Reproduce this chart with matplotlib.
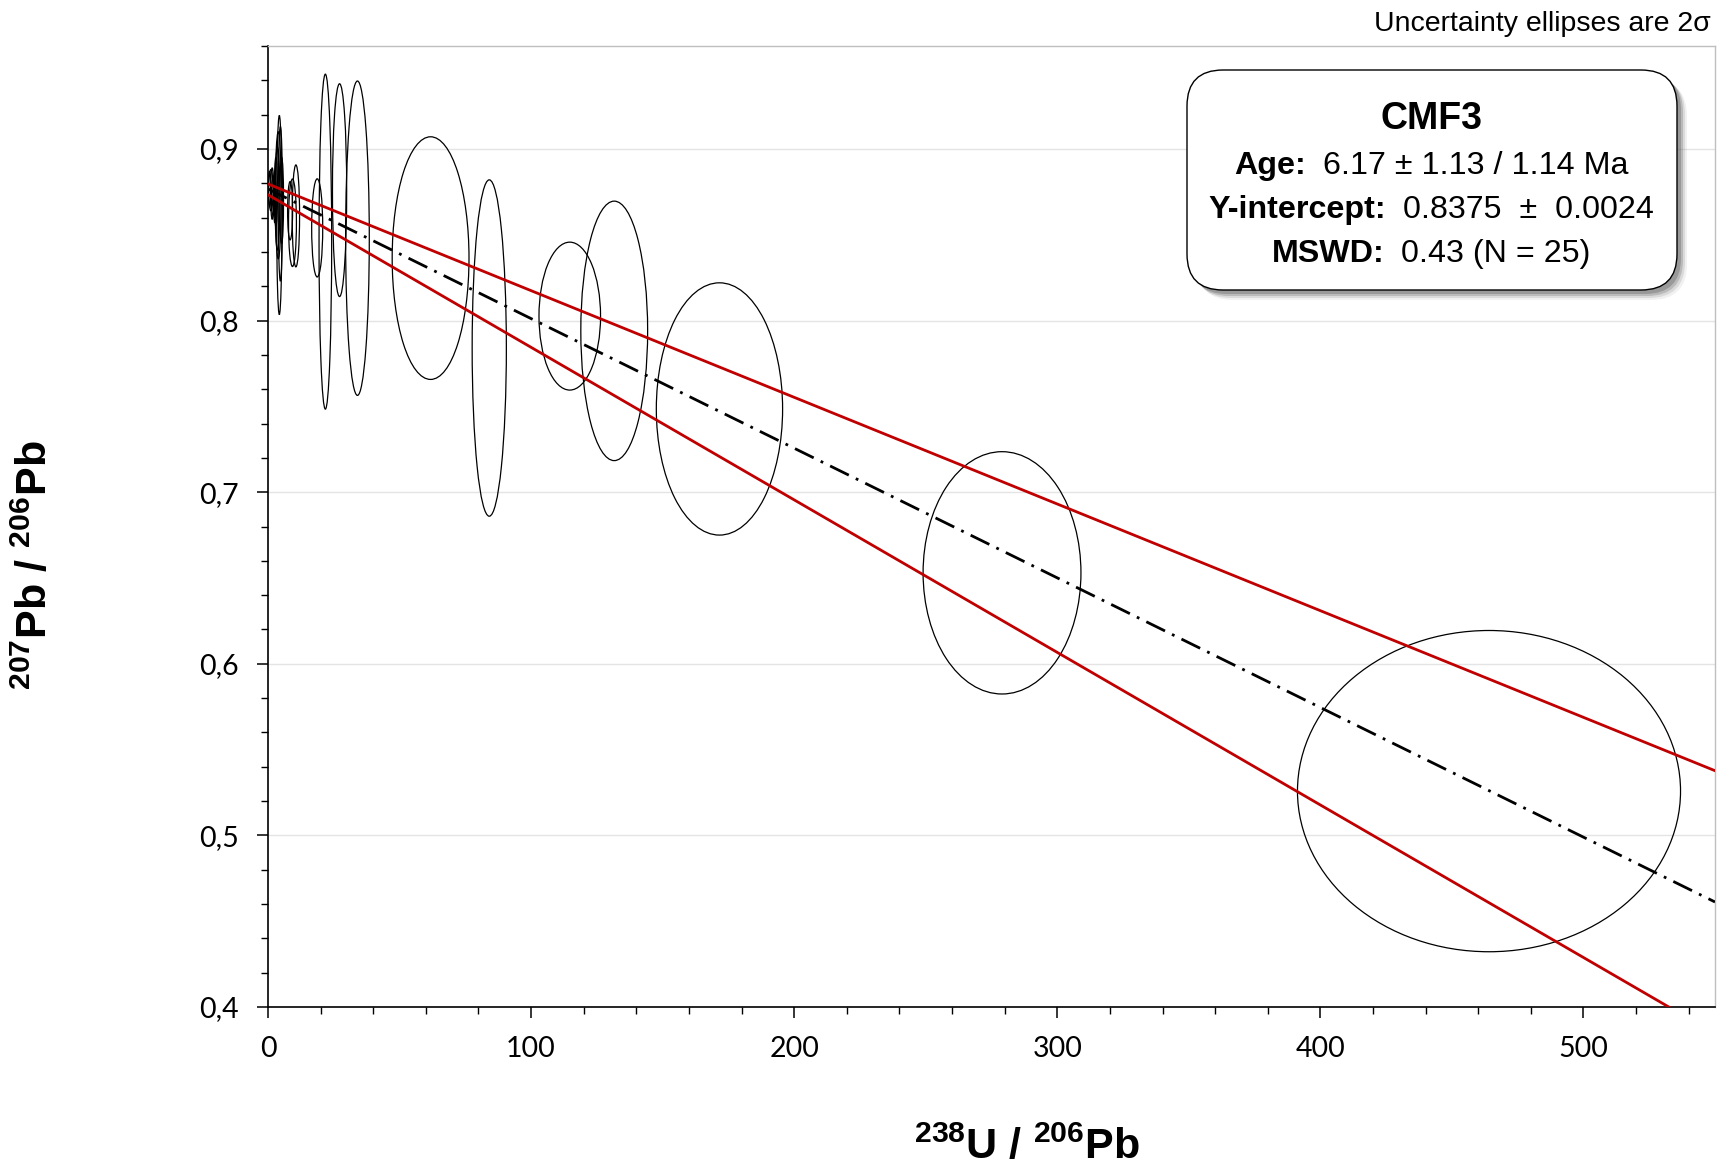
#!/usr/bin/env python3
"""
Tera-Wasserburg diagram (CMF3): uncertainty ellipses with regression line and envelope
"""

import numpy as np
import matplotlib
matplotlib.use("Agg")
import matplotlib.pyplot as plt
from matplotlib.patches import Ellipse, FancyBboxPatch
from matplotlib.ticker import MultipleLocator, FixedLocator, FixedFormatter

# ---- data ----
# ellipse centres (238U/206Pb, 207Pb/206Pb) and 2-sigma half axes
ell_x = [464.1, 279.0, 171.6, 131.6, 114.7, 84.1, 61.8,
         34.0, 27.2, 21.8, 18.7,
         10.6, 9.3, 8.4,
         5.2, 4.7, 4.3, 3.9, 3.6, 3.0, 2.6, 2.0, 1.6, 1.1, 0.6]
ell_y = [0.5258, 0.653, 0.7485, 0.794, 0.8026, 0.784, 0.8364,
         0.848, 0.876, 0.846, 0.854,
         0.861, 0.857, 0.864,
         0.870, 0.868, 0.8615, 0.873, 0.871, 0.875, 0.870, 0.872, 0.874, 0.876, 0.877]
ell_x_err = [72.8, 30.0, 24.0, 12.7, 11.7, 6.5, 14.6,
             4.5, 2.7, 2.4, 2.1,
             1.4, 1.5, 0.95,
             0.7, 0.8, 1.0, 1.1, 0.9, 0.6, 0.5, 0.7, 0.6, 0.8, 0.5]
ell_y_err = [0.0936, 0.0706, 0.0735, 0.0756, 0.0431, 0.098, 0.0707,
             0.0916, 0.062, 0.0976, 0.0286,
             0.0297, 0.0255, 0.017,
             0.025, 0.045, 0.058, 0.037, 0.030, 0.020, 0.013, 0.011, 0.015, 0.012, 0.010]

# regression line and its envelope (values at x = 0 and x = 550)
line_x = [0, 550]
fit_y = [0.8767, 0.4612]
upper_y = [0.8796, 0.5377]
lower_y = [0.8733, 0.3844]

xticks = [0, 100, 200, 300, 400, 500]
yticks = [0.4, 0.5, 0.6, 0.7, 0.8, 0.9]
ytick_labels = ["0,4", "0,5", "0,6", "0,7", "0,8", "0,9"]

sample = "CMF3"
info_labels = ["Age:", "Y-intercept:", "MSWD:"]
info_values = ["6.17 \u00b1 1.13 / 1.14 Ma", "0.8375  \u00b1  0.0024", "0.43 (N = 25)"]

# ---- figure ----
W, H = 1722, 1166
plt.rcParams["font.family"] = ["Liberation Sans", "DejaVu Sans"]
plt.rcParams["mathtext.fontset"] = "custom"
plt.rcParams["mathtext.rm"] = "Liberation Sans"
plt.rcParams["mathtext.bf"] = "Liberation Sans:bold"

fig = plt.figure(figsize=(W / 100, H / 100), dpi=100)
ax = fig.add_axes([268 / W, 1 - 1007 / H, (1715 - 268) / W, (1007 - 46) / H])

for x, y, ex, ey in zip(ell_x, ell_y, ell_x_err, ell_y_err):
    ax.add_patch(Ellipse((x, y), 2 * ex, 2 * ey, fill=False,
                         edgecolor="black", linewidth=0.9, zorder=3))

ax.plot(line_x, upper_y, color="#c00000", linewidth=2.0, zorder=4)
ax.plot(line_x, lower_y, color="#c00000", linewidth=2.0, zorder=4)
ax.plot(line_x, fit_y, color="black", linewidth=2.0, zorder=4,
        linestyle=(0, (7.5, 2.8, 1, 2.8)))

ax.set_xlim(0, 550)
ax.set_ylim(0.4, 0.96)

ax.xaxis.set_major_locator(FixedLocator(xticks))
ax.xaxis.set_minor_locator(MultipleLocator(20))
ax.yaxis.set_major_locator(FixedLocator(yticks))
ax.yaxis.set_major_formatter(FixedFormatter(ytick_labels))
ax.yaxis.set_minor_locator(MultipleLocator(0.02))

ax.tick_params(which="major", direction="out", length=8, width=1.1, pad=13,
               labelsize=20.5)
ax.tick_params(which="minor", direction="out", length=5, width=1.0)
for lab in ax.get_xticklabels() + ax.get_yticklabels():
    lab.set_family(["Lato", "DejaVu Sans"])

ax.grid(axis="y", which="major", color="#e4e4e4", linewidth=1.0, zorder=0)
ax.set_axisbelow(True)
for side in ("top", "right"):
    ax.spines[side].set_color("#bfbfbf")
    ax.spines[side].set_linewidth(1.0)
for side in ("left", "bottom"):
    ax.spines[side].set_linewidth(1.2)

# axis titles
fig.text(1027 / W, 1 - 1147 / H, r"$^{\mathbf{238}}$U / $^{\mathbf{206}}$Pb",
         ha="center", va="center", fontsize=31, fontweight="bold")
fig.text(35 / W, 1 - 565 / H, r"$^{\mathbf{207}}$Pb / $^{\mathbf{206}}$Pb",
         ha="center", va="center", rotation=90, fontsize=31, fontweight="bold")

fig.text(1711 / W, 1 - 31 / H, "Uncertainty ellipses are 2\u03c3",
         ha="right", va="baseline", fontsize=20.5)

# info box (pixel coordinates overlay)
ov = fig.add_axes([0, 0, 1, 1], zorder=5)
ov.set_xlim(0, W)
ov.set_ylim(H, 0)
ov.axis("off")
ov.patch.set_alpha(0)

bx, by, bw, bh = 1187, 70, 490, 220
for off, a in [(10, 0.08), (8, 0.14), (6, 0.24), (4, 0.32)]:
    ov.add_patch(FancyBboxPatch((bx + off, by + off), bw, bh,
                                boxstyle="round,pad=0,rounding_size=36",
                                facecolor="#555555", edgecolor="none", alpha=a))
ov.add_patch(FancyBboxPatch((bx, by), bw, bh,
                            boxstyle="round,pad=0,rounding_size=36",
                            facecolor="white", edgecolor="black", linewidth=1.0))

box_cx = 1431
ov.text(box_cx, 129, sample, ha="center", va="baseline", fontsize=27, fontweight="bold")

renderer = fig.canvas.get_renderer()
row_base = [174, 218, 262]
gap = 17
for yy, lab, val in zip(row_base, info_labels, info_values):
    t1 = ov.text(0, yy, lab, ha="left", va="baseline", fontsize=23.2, fontweight="bold")
    t2 = ov.text(0, yy, val, ha="left", va="baseline", fontsize=23.2)
    w1 = t1.get_window_extent(renderer).width
    w2 = t2.get_window_extent(renderer).width
    x0 = box_cx - (w1 + gap + w2) / 2
    t1.set_x(x0)
    t2.set_x(x0 + w1 + gap)

fig.savefig("out.png", dpi=100)
